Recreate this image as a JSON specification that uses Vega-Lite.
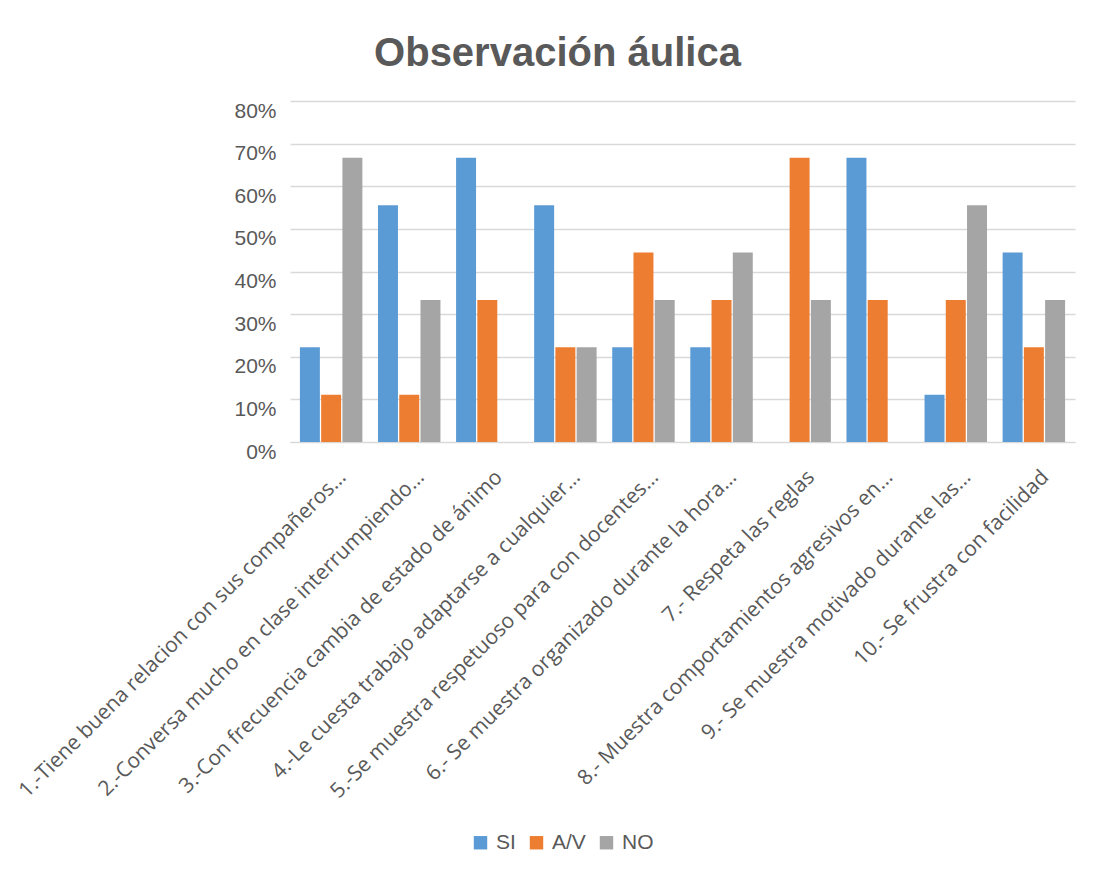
{
  "$schema": "https://vega.github.io/schema/vega-lite/v6.json",
  "width": 785,
  "height": 341,
  "autosize": {"type": "none"},
  "padding": {"left": 290, "top": 101, "right": 26, "bottom": 435},
  "background": "white",
  "title": {
    "text": "Observación áulica",
    "font": "Liberation Sans",
    "fontSize": 40,
    "fontWeight": "bold",
    "color": "#595959",
    "anchor": "middle",
    "frame": "group",
    "dx": -125,
    "offset": 26
  },
  "data": {
    "values": [
      {"item": "1.-Tiene buena relacion con sus compañeros…", "serie": "SI", "valor": 0.2222},
      {"item": "1.-Tiene buena relacion con sus compañeros…", "serie": "A/V", "valor": 0.1111},
      {"item": "1.-Tiene buena relacion con sus compañeros…", "serie": "NO", "valor": 0.6667},
      {"item": "2.-Conversa mucho en clase interrumpiendo…", "serie": "SI", "valor": 0.5556},
      {"item": "2.-Conversa mucho en clase interrumpiendo…", "serie": "A/V", "valor": 0.1111},
      {"item": "2.-Conversa mucho en clase interrumpiendo…", "serie": "NO", "valor": 0.3333},
      {"item": "3.-Con frecuencia cambia de estado de ánimo", "serie": "SI", "valor": 0.6667},
      {"item": "3.-Con frecuencia cambia de estado de ánimo", "serie": "A/V", "valor": 0.3333},
      {"item": "3.-Con frecuencia cambia de estado de ánimo", "serie": "NO", "valor": 0},
      {"item": "4.-Le cuesta trabajo adaptarse a cualquier…", "serie": "SI", "valor": 0.5556},
      {"item": "4.-Le cuesta trabajo adaptarse a cualquier…", "serie": "A/V", "valor": 0.2222},
      {"item": "4.-Le cuesta trabajo adaptarse a cualquier…", "serie": "NO", "valor": 0.2222},
      {"item": "5.-Se muestra respetuoso para con docentes…", "serie": "SI", "valor": 0.2222},
      {"item": "5.-Se muestra respetuoso para con docentes…", "serie": "A/V", "valor": 0.4444},
      {"item": "5.-Se muestra respetuoso para con docentes…", "serie": "NO", "valor": 0.3333},
      {"item": "6.- Se muestra organizado durante la hora…", "serie": "SI", "valor": 0.2222},
      {"item": "6.- Se muestra organizado durante la hora…", "serie": "A/V", "valor": 0.3333},
      {"item": "6.- Se muestra organizado durante la hora…", "serie": "NO", "valor": 0.4444},
      {"item": "7.- Respeta las reglas", "serie": "SI", "valor": 0},
      {"item": "7.- Respeta las reglas", "serie": "A/V", "valor": 0.6667},
      {"item": "7.- Respeta las reglas", "serie": "NO", "valor": 0.3333},
      {"item": "8.- Muestra comportamientos agresivos en…", "serie": "SI", "valor": 0.6667},
      {"item": "8.- Muestra comportamientos agresivos en…", "serie": "A/V", "valor": 0.3333},
      {"item": "8.- Muestra comportamientos agresivos en…", "serie": "NO", "valor": 0},
      {"item": "9.- Se muestra motivado durante las…", "serie": "SI", "valor": 0.1111},
      {"item": "9.- Se muestra motivado durante las…", "serie": "A/V", "valor": 0.3333},
      {"item": "9.- Se muestra motivado durante las…", "serie": "NO", "valor": 0.5556},
      {"item": "10.- Se frustra con facilidad", "serie": "SI", "valor": 0.4444},
      {"item": "10.- Se frustra con facilidad", "serie": "A/V", "valor": 0.2222},
      {"item": "10.- Se frustra con facilidad", "serie": "NO", "valor": 0.3333}
    ]
  },
  "mark": {"type": "bar"},
  "encoding": {
    "x": {
      "field": "item",
      "type": "nominal",
      "sort": null,
      "scale": {"paddingInner": 0.2, "paddingOuter": 0.127},
      "axis": {
        "title": null,
        "labelAngle": -45,
        "labelFont": "Open Sans",
        "labelFontSize": 21,
        "labelColor": "#595959",
        "labelLimit": 0,
        "labelPadding": 24,
        "labelOffset": 4,
        "ticks": false,
        "domainColor": "#D9D9D9",
        "domainWidth": 1
      }
    },
    "xOffset": {
      "field": "serie",
      "type": "nominal",
      "sort": ["SI", "A/V", "NO"],
      "scale": {"paddingInner": 0.06}
    },
    "y": {
      "field": "valor",
      "type": "quantitative",
      "scale": {"domain": [0, 0.8], "nice": false},
      "axis": {
        "title": null,
        "format": ".0%",
        "values": [0, 0.1, 0.2, 0.3, 0.4, 0.5, 0.6, 0.7, 0.8],
        "labelFont": "Liberation Sans",
        "labelFontSize": 21,
        "labelColor": "#595959",
        "labelOffset": 10,
        "labelPadding": 14,
        "ticks": false,
        "domain": false,
        "gridColor": "#D9D9D9",
        "gridWidth": 1.5
      }
    },
    "color": {
      "field": "serie",
      "type": "nominal",
      "sort": ["SI", "A/V", "NO"],
      "scale": {"domain": ["SI", "A/V", "NO"], "range": ["#5B9BD5", "#ED7D31", "#A5A5A5"]},
      "legend": {
        "title": null,
        "orient": "none",
        "direction": "horizontal",
        "legendX": 180,
        "legendY": 731,
        "symbolType": "square",
        "symbolSize": 180,
        "symbolStrokeWidth": 0,
        "labelFont": "Liberation Sans",
        "labelFontSize": 21,
        "labelColor": "#595959",
        "columnPadding": 10,
        "labelOffset": 5
      }
    }
  },
  "config": {
    "view": {"stroke": null}
  }
}
